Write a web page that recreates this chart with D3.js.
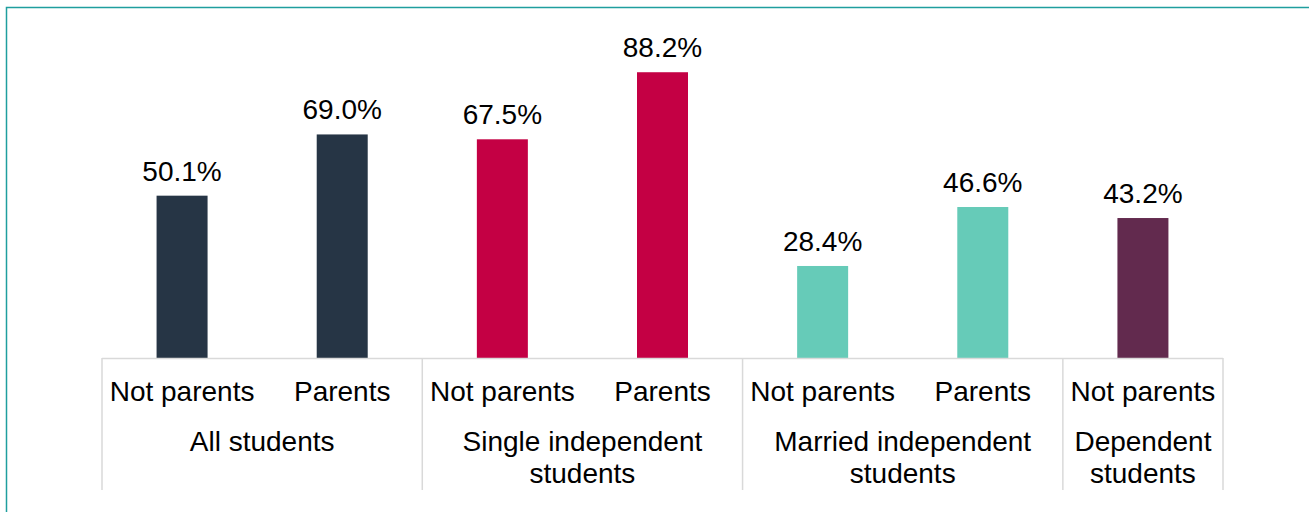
<!DOCTYPE html>
<html>
<head>
<meta charset="utf-8">
<script src="https://cdn.jsdelivr.net/npm/d3@7"></script>
<style>
  body { margin: 0; background: #fff; }
  text { font-family: "Liberation Sans", Arial, sans-serif; fill: #000; }
</style>
</head>
<body>
<div id="graph"></div>
<script>
const bars = ['All-Not', 'All-Par', 'Single-Not', 'Single-Par', 'Married-Not', 'Married-Par', 'Dep-Not'];
const barLabels = ['Not parents', 'Parents', 'Not parents', 'Parents', 'Not parents', 'Parents', 'Not parents'];
const values = [50.1, 69.0, 67.5, 88.2, 28.4, 46.6, 43.2];
const groupOf = [0, 0, 1, 1, 2, 2, 3];
const groups = [['All students'], ['Single independent', 'students'], ['Married independent', 'students'], ['Dependent', 'students']];
const groupColors = ['#263545', '#c40044', '#66cbb8', '#622a4e'];

const W = 1309, H = 512;
const left = 102, right = 1223, base = 358, top100 = 34;
const fs = 28;

const svg = d3.select('#graph').append('svg')
    .attr('width', W)
    .attr('height', H);

// frame
svg.append('path')
    .attr('d', `M6.5,${H} V7.5 H${W}`)
    .attr('fill', 'none')
    .attr('stroke', '#1f9e9e')
    .attr('stroke-width', 1.5);

const x = d3.scaleBand().domain(bars).range([left, right]).paddingInner(0).paddingOuter(0);
const y = d3.scaleLinear().domain([0, 100]).range([base, top100]);
const bw = 51;

svg.selectAll('.bar')
    .data(values)
    .enter().append('rect')
    .attr('class', 'bar')
    .attr('x', (d, i) => x(bars[i]) + (x.bandwidth() - bw) / 2)
    .attr('width', bw)
    .attr('y', d => y(d))
    .attr('height', d => base - y(d))
    .attr('fill', (d, i) => groupColors[groupOf[i]]);

svg.selectAll('.val')
    .data(values)
    .enter().append('text')
    .attr('x', (d, i) => x(bars[i]) + x.bandwidth() / 2)
    .attr('y', d => y(d) - 15)
    .attr('text-anchor', 'middle')
    .attr('font-size', fs)
    .text(d => d.toFixed(1) + '%');

// axis line
svg.append('line')
    .attr('x1', left).attr('x2', right)
    .attr('y1', base + 0.5).attr('y2', base + 0.5)
    .attr('stroke', '#d9d9d9').attr('stroke-width', 1.5);

// group separators
const bounds = [0];
groupOf.forEach((g, i) => { if (i === groupOf.length - 1 || groupOf[i + 1] !== g) bounds.push(i + 1); });
svg.selectAll('.sep')
    .data(bounds)
    .enter().append('line')
    .attr('x1', b => left + b * x.step())
    .attr('x2', b => left + b * x.step())
    .attr('y1', base)
    .attr('y2', 490)
    .attr('stroke', '#d9d9d9').attr('stroke-width', 1.5);

svg.selectAll('.blab')
    .data(barLabels)
    .enter().append('text')
    .attr('x', (d, i) => x(bars[i]) + x.bandwidth() / 2)
    .attr('y', 401)
    .attr('text-anchor', 'middle')
    .attr('font-size', fs)
    .text(d => d);

groups.forEach((lines, g) => {
    const idx = bars.filter((b, i) => groupOf[i] === g);
    const cx = (x(idx[0]) + x(idx[idx.length - 1]) + x.bandwidth()) / 2;
    const t = svg.append('text')
        .attr('x', cx)
        .attr('y', 451)
        .attr('text-anchor', 'middle')
        .attr('font-size', fs);
    lines.forEach((l, k) => {
        t.append('tspan').attr('x', cx).attr('dy', k ? 32 : 0).text(l);
    });
});
</script>
</body>
</html>
